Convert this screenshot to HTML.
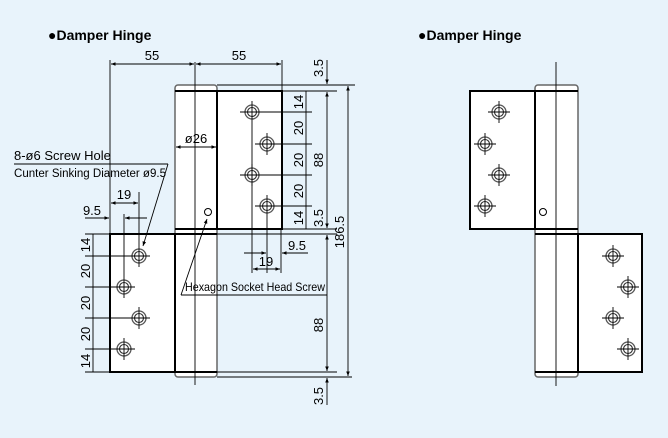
<!DOCTYPE html>
<html><head><meta charset="utf-8"><style>
html,body{margin:0;padding:0;background:#e8f3fb;}
svg{display:block;font-family:"Liberation Sans",sans-serif;}
</style></head><body>
<svg width="668" height="438" viewBox="0 0 668 438" xmlns="http://www.w3.org/2000/svg">
<defs>
<marker id="a" viewBox="0 0 10 10" refX="10" refY="5" markerWidth="7" markerHeight="5" orient="auto-start-reverse"><path d="M0,1 L10,5 L0,9 z" fill="#000"/></marker>
<g id="h"><circle r="7" fill="#fff" stroke="#555" stroke-width="1.3"/><circle r="4.5" fill="none" stroke="#333" stroke-width="1.1"/><line x1="-11" y1="0" x2="11" y2="0" stroke="#000" stroke-width="0.9"/><line x1="0" y1="-11" x2="0" y2="11" stroke="#000" stroke-width="0.9"/></g>
</defs>
<rect width="668" height="438" fill="#e8f3fb"/>
<text x="48" y="40" font-size="14" font-weight="bold">●Damper Hinge</text>
<text x="418" y="40" font-size="14" font-weight="bold">●Damper Hinge</text>

<g stroke="#000" fill="none">
<!-- left hinge -->
<rect x="175" y="85" width="42" height="292" rx="3" fill="#fff" stroke="#666" stroke-width="1.5"/>
<line x1="175" y1="91" x2="217" y2="91" stroke-width="2"/>
<line x1="175" y1="372" x2="217" y2="372" stroke-width="2"/>
<line x1="175" y1="229" x2="217" y2="229" stroke-width="2"/>
<line x1="175" y1="234" x2="217" y2="234" stroke-width="2"/>
<rect x="217" y="91" width="65" height="138" fill="#fff" stroke-width="2"/>
<rect x="110" y="234" width="65" height="138" fill="#fff" stroke-width="2"/>
<line x1="195" y1="62" x2="195" y2="385" stroke-width="0.9"/>
<circle cx="208" cy="212" r="3.5" stroke-width="1"/>
<!-- right hinge -->
<rect x="535" y="85" width="43" height="292" rx="3" fill="#fff" stroke="#666" stroke-width="1.5"/>
<line x1="535" y1="91" x2="578" y2="91" stroke-width="2"/>
<line x1="535" y1="372" x2="578" y2="372" stroke-width="2"/>
<line x1="535" y1="229" x2="578" y2="229" stroke-width="2"/>
<line x1="535" y1="234" x2="578" y2="234" stroke-width="2"/>
<rect x="470" y="91" width="65" height="138" fill="#fff" stroke-width="2"/>
<rect x="578" y="234" width="64" height="138" fill="#fff" stroke-width="2"/>
<line x1="556" y1="62" x2="556" y2="386" stroke-width="0.9"/>
<circle cx="543" cy="212" r="3.5" stroke-width="1"/>
</g>
<use href="#h" x="252" y="112"/><use href="#h" x="267" y="144"/><use href="#h" x="252" y="175"/><use href="#h" x="267" y="206"/>
<use href="#h" x="139" y="256"/><use href="#h" x="124" y="287"/><use href="#h" x="139" y="318"/><use href="#h" x="124" y="349"/>
<use href="#h" x="499" y="112"/><use href="#h" x="485" y="144"/><use href="#h" x="499" y="175"/><use href="#h" x="485" y="206"/>
<use href="#h" x="613" y="256"/><use href="#h" x="628" y="287"/><use href="#h" x="613" y="318"/><use href="#h" x="628" y="349"/>

<g stroke="#000" stroke-width="0.9" fill="none">
<!-- top 55 dims -->
<line x1="110" y1="60" x2="110" y2="234"/><line x1="282" y1="60" x2="282" y2="91"/>
<line x1="111" y1="64" x2="194" y2="64" marker-start="url(#a)" marker-end="url(#a)"/>
<line x1="196" y1="64" x2="281" y2="64" marker-start="url(#a)" marker-end="url(#a)"/>
<!-- ext lines right -->
<line x1="217" y1="85" x2="355" y2="85"/><line x1="282" y1="91" x2="337" y2="91"/>
<line x1="282" y1="229" x2="337" y2="229"/><line x1="217" y1="234" x2="337" y2="234"/>
<line x1="217" y1="372" x2="337" y2="372"/><line x1="217" y1="377" x2="352" y2="377"/>
<line x1="240" y1="112" x2="312" y2="112"/><line x1="255" y1="144" x2="312" y2="144"/>
<line x1="240" y1="175" x2="312" y2="175"/><line x1="255" y1="206" x2="312" y2="206"/>
<line x1="306" y1="91" x2="306" y2="229"/>
<line x1="327" y1="60" x2="327" y2="84" marker-end="url(#a)"/>
<line x1="327" y1="92" x2="327" y2="228" marker-start="url(#a)" marker-end="url(#a)"/>
<line x1="348" y1="86" x2="348" y2="376" marker-start="url(#a)" marker-end="url(#a)"/>
<line x1="327" y1="235" x2="327" y2="371" marker-start="url(#a)" marker-end="url(#a)"/>
<line x1="327" y1="405" x2="327" y2="378" marker-end="url(#a)"/>
<!-- left dims -->
<line x1="85" y1="234" x2="110" y2="234"/><line x1="85" y1="372" x2="110" y2="372"/>
<line x1="85" y1="256" x2="150" y2="256"/><line x1="85" y1="287" x2="135" y2="287"/>
<line x1="85" y1="318" x2="150" y2="318"/><line x1="85" y1="349" x2="135" y2="349"/>
<line x1="93" y1="234" x2="93" y2="372"/>
<line x1="139" y1="192" x2="139" y2="245"/><line x1="124" y1="214" x2="124" y2="276"/>
<line x1="111" y1="203" x2="138" y2="203" marker-start="url(#a)" marker-end="url(#a)"/>
<line x1="85" y1="218" x2="109" y2="218" marker-end="url(#a)"/>
<line x1="147" y1="218" x2="125" y2="218" marker-end="url(#a)"/>
<!-- lower right small dims -->
<line x1="252" y1="123" x2="252" y2="273"/><line x1="267" y1="217" x2="267" y2="273"/><line x1="281" y1="229" x2="281" y2="273"/>
<line x1="244" y1="253" x2="266" y2="253" marker-end="url(#a)"/>
<line x1="308" y1="253" x2="282" y2="253" marker-end="url(#a)"/>
<line x1="253" y1="269" x2="280" y2="269" marker-start="url(#a)" marker-end="url(#a)"/>
<!-- ø26 -->
<line x1="176" y1="147" x2="216" y2="147" marker-start="url(#a)" marker-end="url(#a)"/>
<!-- leaders -->
<line x1="14" y1="164" x2="168" y2="164"/>
<line x1="168" y1="164" x2="143" y2="246" marker-end="url(#a)"/>
<line x1="181" y1="295" x2="327" y2="295"/>
<line x1="181" y1="295" x2="207" y2="219" marker-end="url(#a)"/>
</g>

<g font-size="13" fill="#000">
<text x="152" y="60" text-anchor="middle">55</text>
<text x="239" y="60" text-anchor="middle">55</text>
<text x="196" y="143" text-anchor="middle">ø26</text>
<text x="14" y="160">8-ø6 Screw Hole</text>
<text x="14" y="177" font-size="11.5" textLength="152" lengthAdjust="spacingAndGlyphs">Cunter Sinking Diameter ø9.5</text>
<text x="124" y="199" text-anchor="middle">19</text>
<text x="92" y="215" text-anchor="middle">9.5</text>
<text x="297" y="250" text-anchor="middle">9.5</text>
<text x="266" y="266" text-anchor="middle">19</text>
<text x="185" y="291" font-size="12" textLength="140" lengthAdjust="spacingAndGlyphs">Hexagon Socket Head Screw</text>
</g>
<g font-size="13" fill="#000" text-anchor="middle">
<text transform="translate(303,102) rotate(-90)">14</text>
<text transform="translate(303,128) rotate(-90)">20</text>
<text transform="translate(303,160) rotate(-90)">20</text>
<text transform="translate(303,191) rotate(-90)">20</text>
<text transform="translate(303,218) rotate(-90)">14</text>
<text transform="translate(323,68) rotate(-90)">3.5</text>
<text transform="translate(323,160) rotate(-90)">88</text>
<text transform="translate(323,218) rotate(-90)">3.5</text>
<text transform="translate(344,232) rotate(-90)">186.5</text>
<text transform="translate(323,325) rotate(-90)">88</text>
<text transform="translate(323,396) rotate(-90)">3.5</text>
<text transform="translate(90,245) rotate(-90)">14</text>
<text transform="translate(90,271) rotate(-90)">20</text>
<text transform="translate(90,303) rotate(-90)">20</text>
<text transform="translate(90,334) rotate(-90)">20</text>
<text transform="translate(90,361) rotate(-90)">14</text>
</g>
</svg>
</body></html>
